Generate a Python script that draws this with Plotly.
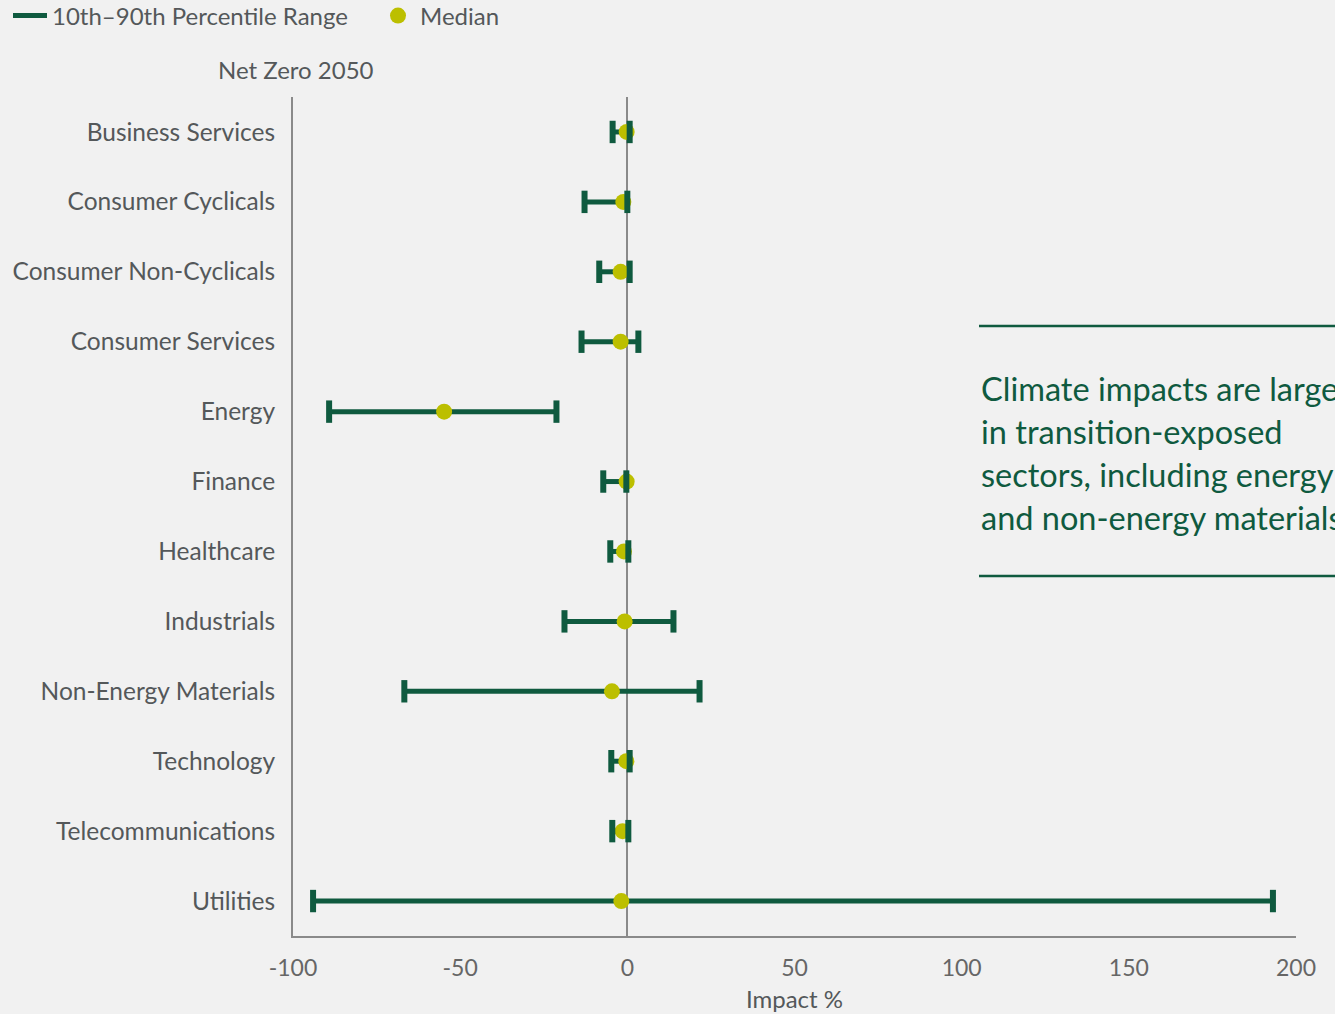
import plotly.graph_objects as go

# Sector-level impact distribution under the Net Zero 2050 scenario (%)
sectors = [
    "Business Services", "Consumer Cyclicals", "Consumer Non-Cyclicals",
    "Consumer Services", "Energy", "Finance", "Healthcare", "Industrials",
    "Non-Energy Materials", "Technology", "Telecommunications", "Utilities",
]
p10 = [-4.4, -12.8, -8.4, -13.7, -89.2, -7.2, -5.1, -18.8, -66.7, -4.8, -4.5, -94.0]
p90 = [0.7, 0.0, 0.7, 3.3, -21.2, -0.3, 0.3, 13.8, 21.6, 0.7, 0.3, 193.1]
median = [-0.2, -1.2, -2.0, -2.0, -54.8, -0.2, -1.0, -0.8, -4.6, -0.3, -1.4, -1.8]

x_ticks = [-100, -50, 0, 50, 100, 150, 200]

note_lines = [
    "Climate impacts are larger",
    "in transition-exposed",
    "sectors, including energy",
    "and non-energy materials",
]

GREEN = "#0f5a3f"
YELLOW = "#bcbf00"
TEXT = "#54585a"
AXIS = "#8a8a8a"
BG = "#f1f1f1"
FONT = "Lato"

# plot area in pixels: left 293, right 1296, top 97, bottom 936
PL, PR, PT, PB = 293, 1296, 97, 936


def px_x(px):
    return (px - PL) / (PR - PL)


def px_y(py):
    return 1 - (py - PT) / (PB - PT)


# range segments
seg_x, seg_y = [], []
for s, lo, hi in zip(sectors, p10, p90):
    seg_x += [lo, hi, None]
    seg_y += [s, s, None]

fig = go.Figure()
fig.add_trace(go.Scatter(
    x=seg_x, y=seg_y, mode="lines",
    line=dict(color=GREEN, width=5),
    name="10th\u201390th Percentile Range",
    hoverinfo="skip",
))
fig.add_trace(go.Scatter(
    x=median, y=sectors, mode="markers",
    marker=dict(color=YELLOW, size=16),
    name="Median",
))
# end caps drawn above the median dots
fig.add_trace(go.Scatter(
    x=p10 + p90, y=sectors + sectors, mode="markers",
    marker=dict(symbol="line-ns", size=16, line=dict(color=GREEN, width=6)),
    showlegend=False, hoverinfo="skip",
))

fig.update_layout(
    width=1335, height=1014,
    paper_bgcolor=BG, plot_bgcolor=BG,
    margin=dict(l=PL, r=1335 - PR, t=PT, b=1014 - PB, autoexpand=False),
    font=dict(family=FONT, color=TEXT, size=24),
    showlegend=True,
    legend=dict(
        orientation="h", xref="paper", yref="paper",
        x=px_x(8), y=px_y(16), xanchor="left", yanchor="middle",
        font=dict(size=24, color=TEXT), bgcolor="rgba(0,0,0,0)",
        itemwidth=34, entrywidth=319, entrywidthmode="pixels",
    ),
    xaxis=dict(
        range=[-100, 200], tickvals=x_ticks, ticktext=[str(v) for v in x_ticks],
        showgrid=False, zeroline=True, zerolinecolor=AXIS, zerolinewidth=2,
        showline=True, linecolor=AXIS, linewidth=2, ticks="",
        tickfont=dict(size=23, color="#666666"), ticklabelstandoff=10,
        title=dict(text="Impact %", font=dict(size=24, color=TEXT), standoff=12),
    ),
    yaxis=dict(
        categoryorder="array", categoryarray=sectors,
        range=[11.5, -0.5], showgrid=False, zeroline=False,
        showline=True, linecolor=AXIS, linewidth=2, ticks="",
        tickfont=dict(size=24.5, color=TEXT), ticklabelstandoff=11,
    ),
)

fig.add_annotation(
    text="Net Zero 2050", xref="paper", yref="paper",
    x=px_x(296), y=px_y(69), xanchor="center", yanchor="middle",
    showarrow=False, font=dict(size=24, color=TEXT),
)

# callout box on the right
for yy in (326, 576):
    fig.add_shape(
        type="line", xref="paper", yref="paper",
        x0=px_x(979), x1=1.1, y0=px_y(yy), y1=px_y(yy),
        line=dict(color=GREEN, width=2.5),
    )
for i, line in enumerate(note_lines):
    fig.add_annotation(
        text=line, xref="paper", yref="paper",
        x=px_x(979), y=px_y(388 + i * 43),
        xanchor="left", yanchor="middle", showarrow=False,
        font=dict(size=32.5, color=GREEN),
    )

fig.write_html("out.html")
